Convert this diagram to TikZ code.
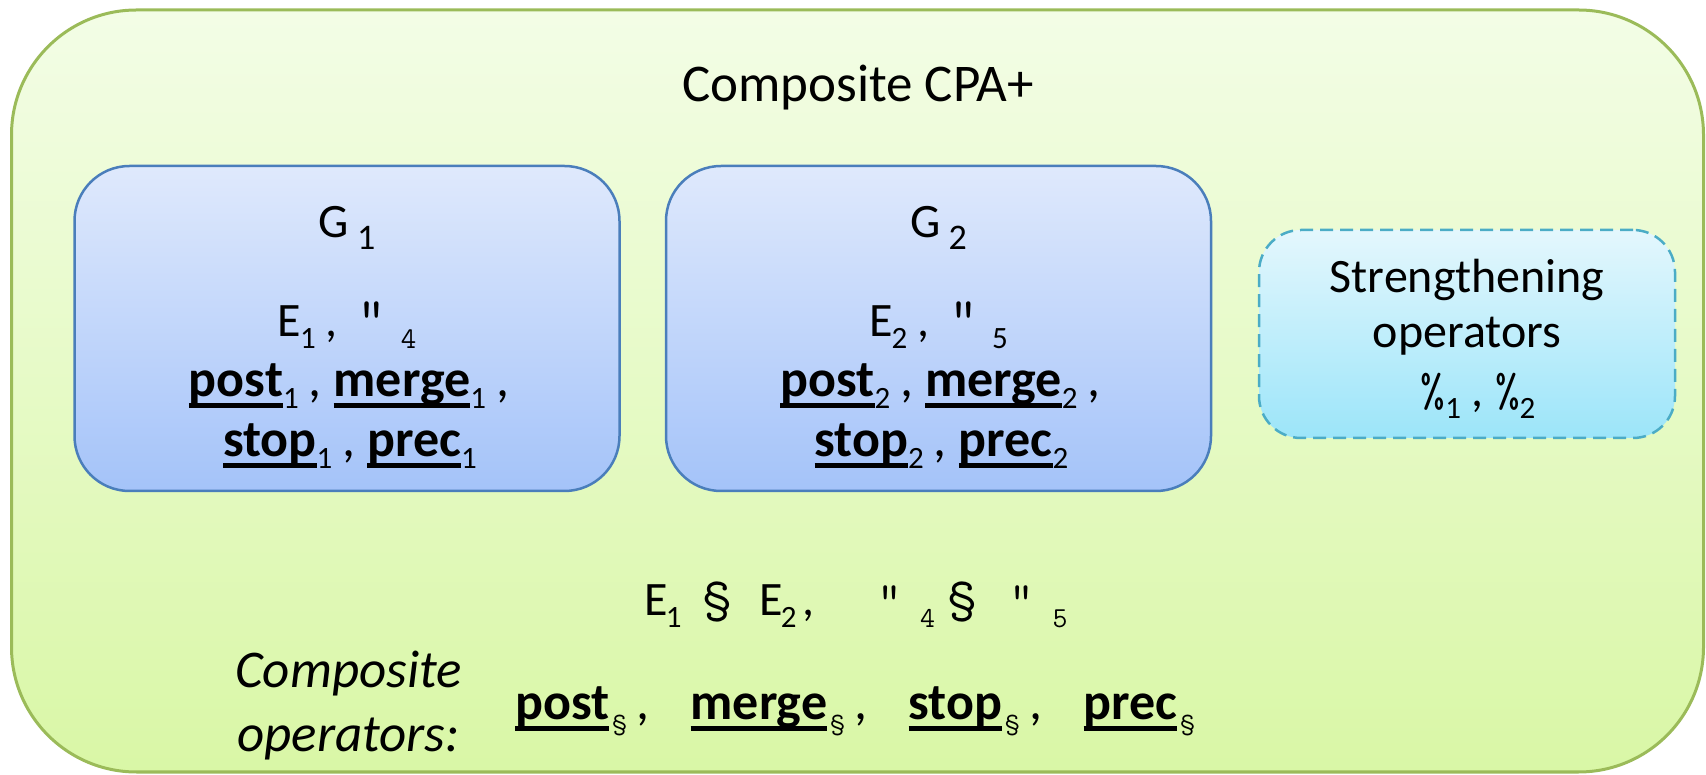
\documentclass[tikz,border=0pt]{standalone}
\usepackage{fontspec}
\setmainfont{Carlito}
\usetikzlibrary{positioning}

\definecolor{framegreen}{HTML}{9BBB59}
\definecolor{greentop}{HTML}{F3FDE6}
\definecolor{greenbot}{HTML}{D9F7A6}
\definecolor{blueedge}{HTML}{4A7EBB}
\definecolor{bluetop}{HTML}{DFE9FC}
\definecolor{bluebot}{HTML}{A4C3F9}
\definecolor{cyanedge}{HTML}{4BACC6}
\definecolor{cyantop}{HTML}{E4F7FD}
\definecolor{cyanbot}{HTML}{9CE5F9}

% text sizes
\newcommand\fs{\fontsize{48}{58}\selectfont}
\newcommand\opfs{\fontsize{52}{62}\selectfont}
\newcommand\titlefs{\fontsize{53}{63}\selectfont}
% lowered subscript in the main face
\newcommand\lo[1]{\raisebox{-12pt}{\fontsize{31}{31}\selectfont\mdseries\upshape #1}}
\newcommand\glo[1]{\raisebox{-12pt}{\fontsize{36}{36}\selectfont\mdseries\upshape #1}}
% lowered subscript in the typewriter face
\newcommand\tlo[2][24]{\raisebox{-12pt}{\fontsize{#1}{#1}\selectfont\ttfamily\mdseries #2}}
% typewriter symbols at text size
\newcommand\tsym[2][48]{{\fontsize{#1}{#1}\selectfont\ttfamily #2}}
% thick underline for operator names
\newcommand\ulw[1]{\setbox0=\hbox{\bfseries #1}\rlap{\vrule height -0.125em depth 0.21em width \wd0}\box0}

\begin{document}
\begin{tikzpicture}[x=1pt,y=1pt,
  frame/.style={draw=framegreen, line width=3pt, rounded corners=125pt,
    top color=greentop, bottom color=greenbot,
    minimum width=1692pt, minimum height=762pt, inner sep=0pt},
  cpabox/.style={draw=blueedge, line width=2.5pt, rounded corners=55pt,
    top color=bluetop, bottom color=bluebot,
    minimum width=545pt, minimum height=325pt, inner sep=0pt},
  strbox/.style={draw=cyanedge, line width=2.5pt, dash pattern=on 13pt off 7pt,
    rounded corners=42pt, top color=cyantop, bottom color=cyanbot,
    minimum width=416pt, minimum height=208pt, inner sep=0pt},
  txt/.style={anchor=base, inner sep=0pt, font=\fs},
  optxt/.style={anchor=base, inner sep=0pt, font=\opfs}]

\useasboundingbox (0,0) rectangle (1706,774);

% outer composite frame
\node[frame] (frame) at (857.5,383) {};
\node[txt, font=\titlefs] (title) at (858,672) {Composite CPA+};

% the two component analyses
\node[cpabox] (cpaA) at (347,445.5) {};
\node[cpabox] (cpaB) at (938.5,445.5) {};

\node[txt] (gA) at (347,536) {G\kern8pt\glo{1}};
\node[txt] (eA) at (347,437) {E\kern-1pt\lo{1}\kern10pt,\hspace{20pt}\tsym[56]{"}\hspace{14pt}\tlo[30]{4}};
\node[optxt] (opA1) at (349,377) {\ulw{post}\lo{1}\kern10pt,\kern12pt\ulw{merge}\lo{1}\kern10pt,};
\node[optxt] (opA2) at (350,317) {\ulw{stop}\lo{1}\kern10pt,\kern12pt\ulw{prec}\lo{1}};

\node[txt] (gB) at (938.5,536) {G\kern8pt\glo{2}};
\node[txt] (eB) at (938.5,437) {E\kern-1pt\lo{2}\kern10pt,\hspace{20pt}\tsym[56]{"}\hspace{14pt}\lo{5}};
\node[optxt] (opB1) at (940.5,377) {\ulw{post}\lo{2}\kern10pt,\kern12pt\ulw{merge}\lo{2}\kern10pt,};
\node[optxt] (opB2) at (941.5,317) {\ulw{stop}\lo{2}\kern10pt,\kern12pt\ulw{prec}\lo{2}};

% strengthening operators
\node[strbox] (strength) at (1467,440) {};
\node[txt] (strA) at (1467,481) {Strengthening};
\node[txt] (strB) at (1467,426) {operators};
\node[txt] (strC) at (1478,367) {\tsym{\%}\lo{1}\kern10pt,\kern12pt\tsym{\%}\lo{2}};

% composite domain and operators
\node[txt] (comp) at (856,158) {E\kern-2pt\lo{1}\hspace{22pt}\tsym[54]{§}\hspace{28pt}E\kern-2pt\lo{2}\kern6pt,\hspace{63pt}\tsym{"}\hspace{18pt}\tlo[29]{4}\hspace{13pt}\tsym[54]{§}\hspace{34pt}\tsym{"}\hspace{18pt}\tlo[29]{5}};
\node[txt, font=\titlefs\itshape] (cl1) at (348.5,86) {Composite};
\node[txt, font=\titlefs\itshape] (cl2) at (348.5,22) {operators:};
\node[optxt, anchor=base west] (ops) at (515,54) {\ulw{post}\kern3pt\tlo[28]{§}\kern10pt,\hspace{41pt}\ulw{merge}\kern3pt\tlo[28]{§}\kern10pt,\hspace{41pt}\ulw{stop}\kern3pt\tlo[28]{§}\kern10pt,\hspace{41pt}\ulw{prec}\kern3pt\tlo[28]{§}};
\end{tikzpicture}
\end{document}
